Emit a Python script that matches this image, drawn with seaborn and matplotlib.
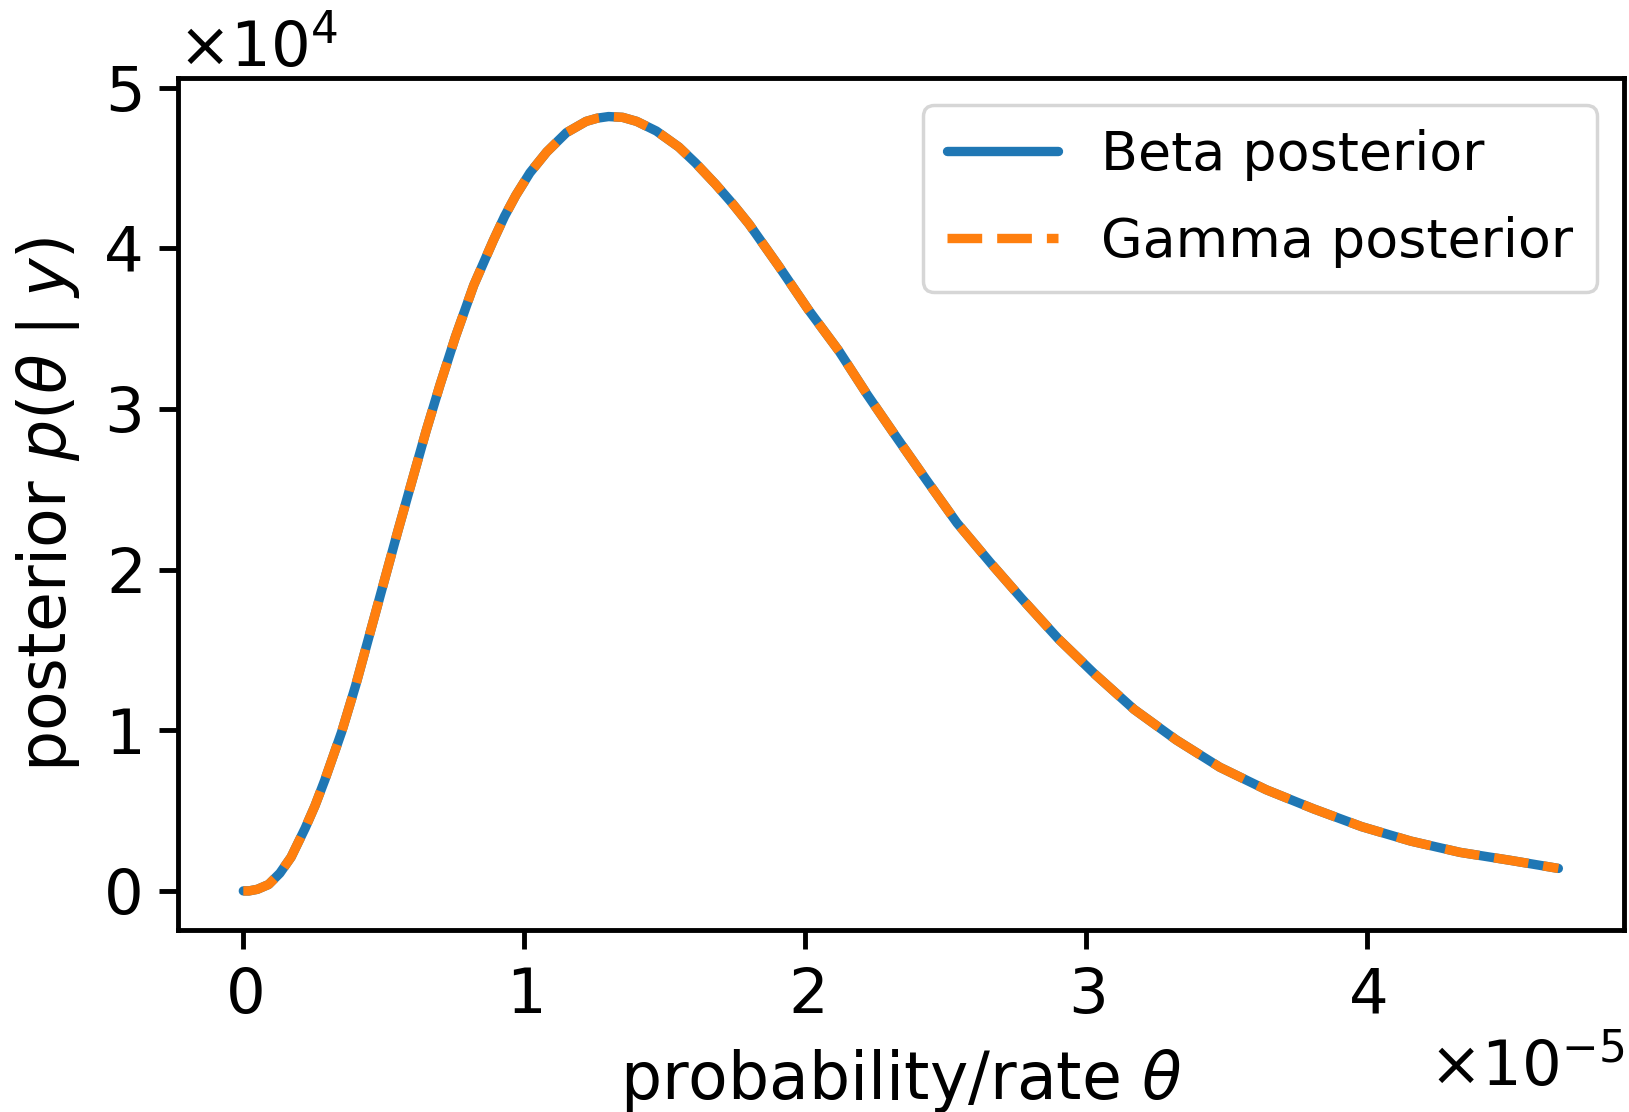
# Posterior for a small rate: Beta vs Gamma posterior (they overlap)
import numpy as np
import pandas as pd
import matplotlib
matplotlib.use('Agg')
import matplotlib.pyplot as plt
import seaborn as sns

# values, theta in units of 1e-5, density in units of 1e4
theta_e5 = [0.0, 0.02, 0.05, 0.09, 0.13, 0.17, 0.22, 0.255, 0.29, 0.35,
            0.40, 0.45, 0.50, 0.55, 0.60, 0.65, 0.70, 0.755, 0.82, 0.89,
            0.93, 0.97, 1.02, 1.08, 1.15, 1.22, 1.26, 1.30, 1.35, 1.40,
            1.47, 1.55, 1.61, 1.68, 1.74, 1.80, 1.905, 2.01, 2.12, 2.22,
            2.33, 2.43, 2.54, 2.66, 2.77, 2.90, 3.03, 3.17, 3.32, 3.475,
            3.64, 3.81, 3.98, 4.155, 4.33, 4.51, 4.68]
beta_pdf_e4 = [0.0, 0.0, 0.01, 0.04, 0.11, 0.21, 0.39, 0.53, 0.69, 0.99,
               1.28, 1.60, 1.92, 2.24, 2.55, 2.86, 3.15, 3.45, 3.77, 4.05,
               4.20, 4.33, 4.47, 4.60, 4.72, 4.79, 4.81, 4.82, 4.815, 4.79,
               4.73, 4.63, 4.53, 4.40, 4.28, 4.15, 3.89, 3.62, 3.36, 3.09,
               2.81, 2.56, 2.29, 2.04, 1.82, 1.57, 1.35, 1.13, 0.94, 0.77,
               0.63, 0.51, 0.40, 0.31, 0.24, 0.19, 0.14]
gamma_pdf_e4 = [0.0, 0.0, 0.01, 0.04, 0.11, 0.21, 0.39, 0.53, 0.69, 0.99,
                1.28, 1.60, 1.92, 2.24, 2.55, 2.86, 3.15, 3.45, 3.77, 4.05,
                4.20, 4.33, 4.47, 4.60, 4.72, 4.79, 4.81, 4.82, 4.815, 4.79,
                4.73, 4.63, 4.53, 4.40, 4.28, 4.15, 3.89, 3.62, 3.36, 3.09,
                2.81, 2.56, 2.29, 2.04, 1.82, 1.57, 1.35, 1.13, 0.94, 0.77,
                0.63, 0.51, 0.40, 0.31, 0.24, 0.19, 0.14]

df = pd.DataFrame({'theta': np.array(theta_e5) * 1e-5,
                   'beta': np.array(beta_pdf_e4) * 1e4,
                   'gamma': np.array(gamma_pdf_e4) * 1e4})

sns.set_theme(style='ticks', rc={
    'axes.edgecolor': 'black', 'axes.labelcolor': 'black',
    'text.color': 'black', 'xtick.color': 'black', 'ytick.color': 'black',
    'axes.linewidth': 1.4, 'xtick.major.width': 1.4, 'ytick.major.width': 1.4,
    'xtick.major.size': 5.5, 'ytick.major.size': 5.5,
    'xtick.major.pad': 5, 'ytick.major.pad': 5,
    'xtick.labelsize': 18, 'ytick.labelsize': 18, 'axes.labelsize': 18.7,
    'legend.fontsize': 15.5, 'font.size': 18,
})
plt.rcParams['font.family'] = ['DejaVu Sans']

fig, ax = plt.subplots(figsize=(6.516, 4.448), dpi=250)
fig.subplots_adjust(left=0.109, right=0.997, top=0.930, bottom=0.164)

sns.lineplot(data=df, x='theta', y='beta', ax=ax, color='#1f77b4', lw=2.7,
             label='Beta posterior')
sns.lineplot(data=df, x='theta', y='gamma', ax=ax, color='#ff7f0e', lw=2.7,
             ls='--', label='Gamma posterior')

ax.ticklabel_format(style='sci', axis='both', scilimits=(0, 0), useMathText=True)
ax.set_xlabel(r'probability/rate $\theta$', labelpad=6)
ax.set_ylabel(r'posterior $p(\theta \mid y)$', labelpad=6)
ax.legend(loc='upper right', labelspacing=0.65, handlelength=2.05,
          borderpad=0.45)

fig.savefig('out.png', dpi=250)
